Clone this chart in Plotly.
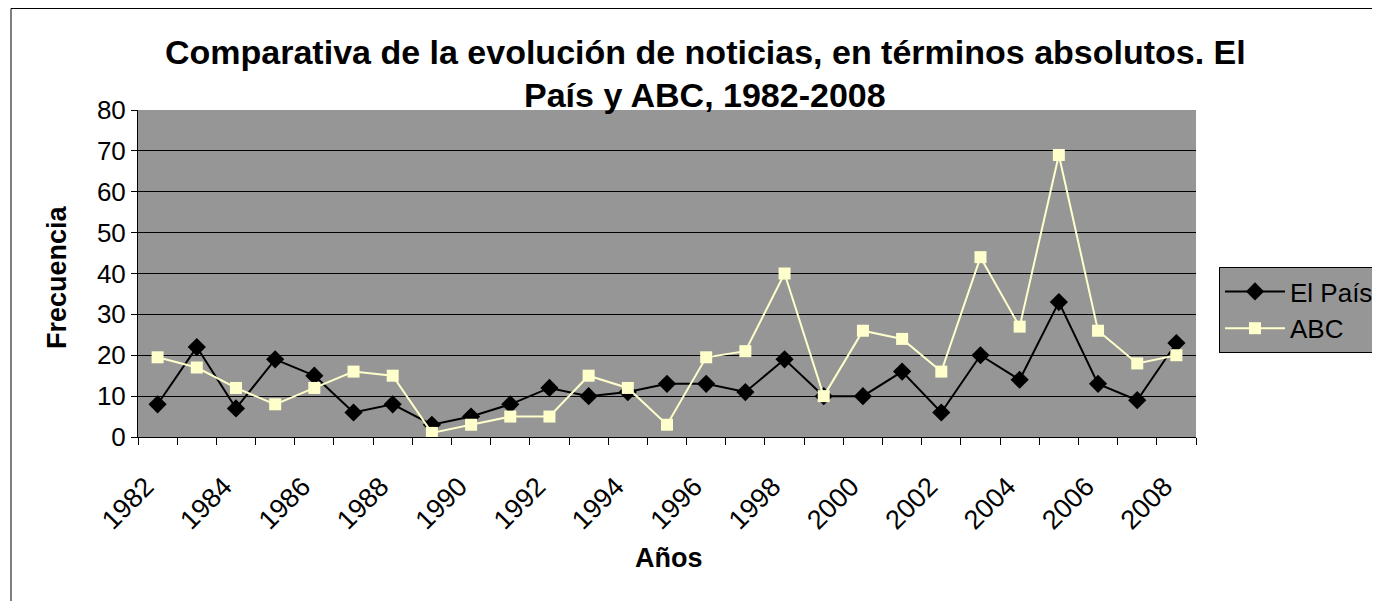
import plotly.graph_objects as go

years = list(range(1982, 2009))
el_pais = [8, 22, 7, 19, 15, 6, 8, 3, 5, 8, 12, 10, 11, 13, 13, 11, 19, 10, 10, 16, 6, 20, 14, 33, 13, 9, 23]
abc = [19.5, 17, 12, 8, 12, 16, 15, 1, 3, 5, 5, 15, 12, 3, 19.5, 21, 40, 10, 26, 24, 16, 44, 27, 69, 26, 18, 20]
tick_years = list(range(1982, 2009, 2))

FONT = "Liberation Sans, Arial, sans-serif"
OFF = 8  # page body margin
L, R, T, B = 138, 1196, 110, 437
W, H = 1380, 601
pw, ph = R - L, B - T
LABEL_SHIFT = 0.3  # rotated labels sit slightly left of the category centre

def px(x):
    return (x - L) / pw

def py(y):
    return (B - y) / ph

fig = go.Figure()
fig.add_trace(go.Scatter(
    x=years, y=el_pais, name="El País", mode="lines+markers",
    line=dict(color="black", width=2),
    marker=dict(symbol="diamond", size=14, color="black"),
))
fig.add_trace(go.Scatter(
    x=years, y=abc, name="ABC", mode="lines+markers",
    line=dict(color="#FFFFCC", width=2),
    marker=dict(symbol="square", size=12, color="#FFFFCC"),
))

fig.update_layout(
    width=W - OFF, height=H - OFF,
    margin=dict(l=L - OFF, r=W - R, t=T - OFF, b=H - B, autoexpand=False),
    paper_bgcolor="white",
    plot_bgcolor="#969696",
    font=dict(family=FONT, size=27, color="black"),
    showlegend=True,
    legend=dict(
        x=px(1219), y=py(267), xanchor="left", yanchor="top",
        bgcolor="#969696", bordercolor="black", borderwidth=1,
        font=dict(size=26), itemwidth=60,
    ),
    xaxis=dict(
        range=[1981.5, 2008.5],
        tickvals=[y - LABEL_SHIFT for y in tick_years],
        ticktext=[str(y) for y in tick_years],
        tickangle=-45, ticks="", showgrid=False, zeroline=False,
        showline=True, linecolor="black", linewidth=1,
        tickfont=dict(size=27), ticklabelstandoff=22,
        minor=dict(tick0=1981.5, dtick=1, ticks="outside", ticklen=7,
                   tickcolor="black", showgrid=False),
    ),
    yaxis=dict(
        range=[0, 80], dtick=10, ticks="outside", ticklen=6,
        tickcolor="black", showgrid=True, gridcolor="black", gridwidth=1,
        zeroline=False, showline=True, linecolor="black", linewidth=1,
        tickfont=dict(size=26),
    ),
    annotations=[
        dict(text="<b>Comparativa de la evolución de noticias, en términos absolutos. El</b>",
             xref="paper", yref="paper", x=px(705), y=py(52), showarrow=False,
             xanchor="center", yanchor="middle", font=dict(size=34)),
        dict(text="<b>País y ABC, 1982-2008</b>",
             xref="paper", yref="paper", x=px(705), y=py(95), showarrow=False,
             xanchor="center", yanchor="middle", font=dict(size=34)),
        dict(text="<b>Frecuencia</b>", textangle=-90,
             xref="paper", yref="paper", x=px(57), y=py(277), showarrow=False,
             xanchor="center", yanchor="middle", font=dict(size=27)),
        dict(text="<b>Años</b>",
             xref="paper", yref="paper", x=px(669), y=py(558), showarrow=False,
             xanchor="center", yanchor="middle", font=dict(size=27)),
    ],
    shapes=[
        dict(type="rect", xref="paper", yref="paper",
             x0=px(11), x1=px(1400), y0=py(620), y1=py(8.5),
             line=dict(color="black", width=1), fillcolor="rgba(0,0,0,0)",
             layer="below"),
    ],
)

fig.write_html("out.html")
